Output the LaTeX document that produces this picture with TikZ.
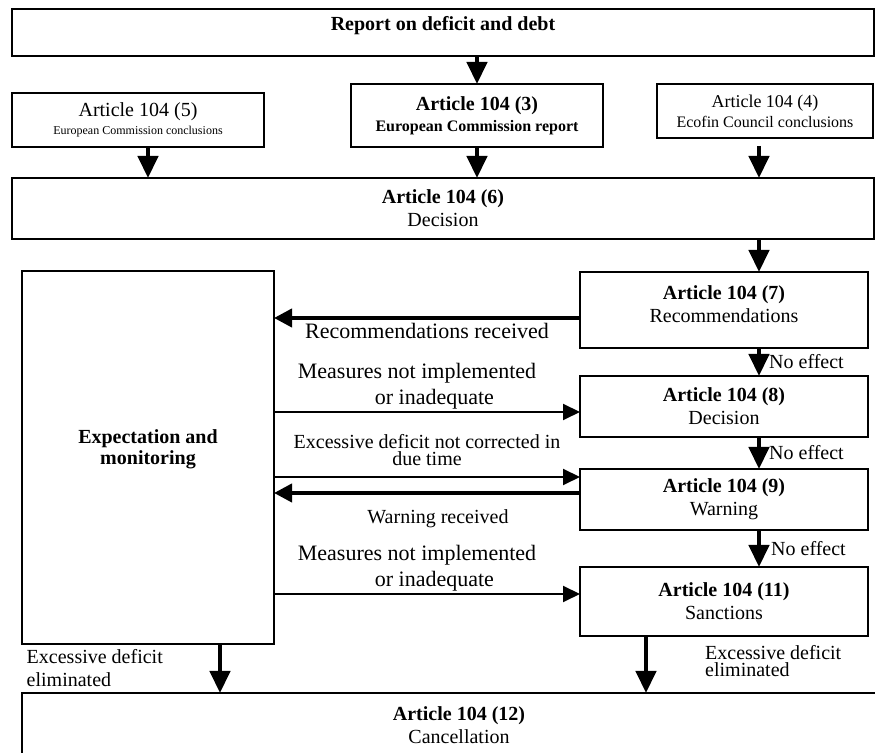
\documentclass[tikz,border=0pt]{standalone}
\usepackage{fontspec}
\setmainfont{Liberation Serif}
\usetikzlibrary{arrows.meta,positioning}

\begin{document}
\begin{tikzpicture}[
	node distance=14pt and 14pt,
	font=\fontsize{10}{11.5}\selectfont
	]
\tikzset{
	base/.style = { rectangle, draw=black, line width=0.75pt, align=center, inner sep=0pt, outer sep=0pt },
	boxWide/.style = { base, minimum width=431pt },
	boxStage/.style = { base, minimum width=144pt },
	arrowDown/.style = { line width=2.2pt, -{Triangle[length=11pt,width=10pt]} },
	arrowBack/.style = { line width=2pt, -{Triangle[length=9pt,width=9pt]} },
	arrowThin/.style = { line width=1pt, -{Triangle[length=8.5pt,width=8pt]} },
	edgeText/.style = { font=\fontsize{11}{13}\selectfont, inner sep=1pt }
}
	\useasboundingbox (0,0) rectangle (437.5pt,-376.5pt);

	% top row
	\node (report) [boxWide, minimum height=23.5pt, text depth=8.7pt] at (221.5pt,-16.25pt) {\textbf{Report on deficit and debt}};
	\node (art5) [base, minimum width=126pt, minimum height=27pt, below right=18.5pt and 0pt of report.south west, font=\fontsize{10}{9}\selectfont] {Article 104 (5)\\{\fontsize{6}{7}\selectfont European Commission conclusions}};
	\node (art3) [base, minimum width=126pt, minimum height=31.5pt, below=14pt of report, xshift=17pt, font=\fontsize{10}{10.5}\selectfont] {\textbf{Article 104 (3)}\\{\fontsize{8}{9}\selectfont\bfseries European Commission report}};
	\node (art4) [base, minimum width=108pt, minimum height=27pt, below left=14pt and 0.5pt of report.south east, font=\fontsize{9}{10}\selectfont] {Article 104 (4)\\{\fontsize{8}{9}\selectfont Ecofin Council conclusions}};
	\node (art6) [boxWide, minimum height=30.5pt, below=61pt of report] {\textbf{Article 104 (6)}\\Decision};

	% left column
	\node (expect) [base, minimum width=126pt, minimum height=186.5pt, text depth=10pt, below right=16pt and 5pt of art6.south west, font=\fontsize{10}{10.5}\selectfont] {\textbf{Expectation and}\\\textbf{monitoring}};

	% right column
	\node (art7) [boxStage, minimum height=38pt, text depth=6pt, below left=16.5pt and 3pt of art6.south east] {\textbf{Article 104 (7)}\\Recommendations};
	\node (art8) [boxStage, minimum height=30.5pt, below=14pt of art7] {\textbf{Article 104 (8)}\\Decision};
	\node (art9) [boxStage, minimum height=30.5pt, below=16pt of art8] {\textbf{Article 104 (9)}\\Warning};
	\node (art11) [boxStage, minimum height=34.5pt, below=18.5pt of art9] {\textbf{Article 104 (11)}\\Sanctions};

	\node (art12) [base, minimum width=437pt, minimum height=32.5pt, below right=24.5pt and 0pt of expect.south west] {\textbf{Article 104 (12)}\\Cancellation};

	\coordinate (spine) at (379.5pt,0);

	% paths
	\draw [arrowDown] (report.south -| art3.north) -- (art3.north);
	\draw [arrowDown] ([xshift=5pt]art5.south) -- ([xshift=5pt]art5.south |- art6.north);
	\draw [arrowDown] (art3.south) -- (art3.south |- art6.north);
	\draw [arrowDown, shorten <=4pt] (art4.south -| spine) -- (art6.north -| spine);
	\draw [arrowDown] (art6.south -| spine) -- (art7.north -| spine);

	\draw [arrowDown] (art7.south -| spine) -- node[right, inner sep=4pt] {No effect} (art8.north -| spine);
	\draw [arrowDown] (art8.south -| spine) -- node[right, inner sep=4pt] {No effect} (art9.north -| spine);
	\draw [arrowDown] (art9.south -| spine) -- node[right, inner sep=5pt] {No effect} (art11.north -| spine);

	\draw [arrowBack] ([yshift=-4pt]art7.west) -- node[edgeText, below, inner sep=1.5pt] {Recommendations received} ([yshift=-4pt]art7.west -| expect.east);
	\draw [arrowThin] ([yshift=-2.75pt]art8.west -| expect.east) -- node[edgeText, above, xshift=-5pt, align=left] {Measures not implemented\\\hspace*{3.5em}or inadequate} ([yshift=-2.75pt]art8.west);
	\draw [arrowThin] ([yshift=11.25pt]art9.west -| expect.east) -- node[above, inner sep=5pt, align=center, font=\fontsize{10}{8.5}\selectfont] {Excessive deficit not corrected in\\due time} ([yshift=11.25pt]art9.west);
	\draw [arrowBack] ([yshift=3.25pt]art9.west) -- node[below, inner sep=7.5pt, xshift=5.5pt] {Warning received} ([yshift=3.25pt]art9.west -| expect.east);
	\draw [arrowThin] ([yshift=3.75pt]art11.west -| expect.east) -- node[edgeText, above, xshift=-5pt, align=left] {Measures not implemented\\\hspace*{3.5em}or inadequate} ([yshift=3.75pt]art11.west);

	\draw [arrowDown] ([xshift=36pt]expect.south) -- node[left, xshift=-27.5pt, inner sep=0pt, align=left] {Excessive deficit\\eliminated} ([xshift=36pt]expect.south |- art12.north);
	\draw [arrowDown] ([xshift=-39pt]art11.south) -- node[right, xshift=28.5pt, yshift=1.5pt, inner sep=0pt, align=left, font=\fontsize{10}{8.5}\selectfont] {Excessive deficit\\eliminated} ([xshift=-39pt]art11.south |- art12.north);
\end{tikzpicture}
\end{document}
